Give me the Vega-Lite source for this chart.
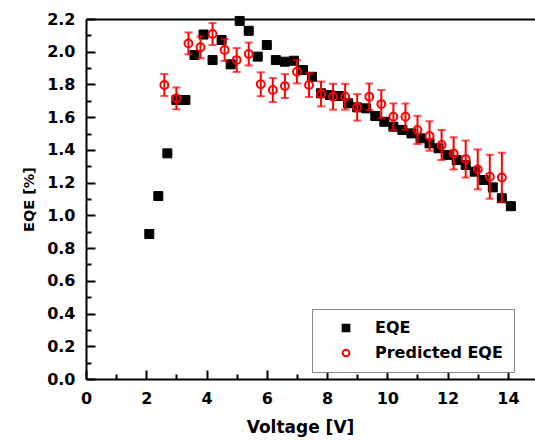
{
  "$schema": "https://vega.github.io/schema/vega-lite/v6.json",
  "width": 449,
  "height": 360,
  "autosize": {"type": "none"},
  "padding": {"left": 86, "top": 19, "right": 0, "bottom": 66},
  "background": "white",
  "config": {
    "view": {"stroke": null},
    "font": "DejaVu Sans",
    "axis": {"labelOverlap": false, "labelFlush": false, "grid": false}
  },
  "data": {
    "values": [
      {"V": 2.1, "eqe": 0.886, "series": "EQE"},
      {"V": 2.4, "eqe": 1.118, "series": "EQE"},
      {"V": 2.7, "eqe": 1.379, "series": "EQE"},
      {"V": 3.0, "eqe": 1.705, "series": "EQE"},
      {"V": 3.3, "eqe": 1.705, "series": "EQE"},
      {"V": 3.6, "eqe": 1.98, "series": "EQE"},
      {"V": 3.9, "eqe": 2.105, "series": "EQE"},
      {"V": 4.2, "eqe": 1.949, "series": "EQE"},
      {"V": 4.5, "eqe": 2.072, "series": "EQE"},
      {"V": 4.8, "eqe": 1.923, "series": "EQE"},
      {"V": 5.1, "eqe": 2.188, "series": "EQE"},
      {"V": 5.4, "eqe": 2.128, "series": "EQE"},
      {"V": 5.7, "eqe": 1.97, "series": "EQE"},
      {"V": 6.0, "eqe": 2.041, "series": "EQE"},
      {"V": 6.3, "eqe": 1.949, "series": "EQE"},
      {"V": 6.6, "eqe": 1.939, "series": "EQE"},
      {"V": 6.9, "eqe": 1.945, "series": "EQE"},
      {"V": 7.2, "eqe": 1.888, "series": "EQE"},
      {"V": 7.5, "eqe": 1.847, "series": "EQE"},
      {"V": 7.8, "eqe": 1.746, "series": "EQE"},
      {"V": 8.1, "eqe": 1.735, "series": "EQE"},
      {"V": 8.4, "eqe": 1.729, "series": "EQE"},
      {"V": 8.7, "eqe": 1.685, "series": "EQE"},
      {"V": 9.0, "eqe": 1.66, "series": "EQE"},
      {"V": 9.3, "eqe": 1.654, "series": "EQE"},
      {"V": 9.6, "eqe": 1.607, "series": "EQE"},
      {"V": 9.9, "eqe": 1.572, "series": "EQE"},
      {"V": 10.2, "eqe": 1.542, "series": "EQE"},
      {"V": 10.5, "eqe": 1.522, "series": "EQE"},
      {"V": 10.8, "eqe": 1.501, "series": "EQE"},
      {"V": 11.1, "eqe": 1.471, "series": "EQE"},
      {"V": 11.4, "eqe": 1.44, "series": "EQE"},
      {"V": 11.7, "eqe": 1.41, "series": "EQE"},
      {"V": 12.0, "eqe": 1.369, "series": "EQE"},
      {"V": 12.3, "eqe": 1.338, "series": "EQE"},
      {"V": 12.6, "eqe": 1.308, "series": "EQE"},
      {"V": 12.9, "eqe": 1.267, "series": "EQE"},
      {"V": 13.2, "eqe": 1.216, "series": "EQE"},
      {"V": 13.5, "eqe": 1.171, "series": "EQE"},
      {"V": 13.8, "eqe": 1.105, "series": "EQE"},
      {"V": 14.1, "eqe": 1.056, "series": "EQE"},
      {"V": 2.6, "eqe": 1.797, "lo": 1.730, "hi": 1.864, "series": "Predicted EQE"},
      {"V": 3.0, "eqe": 1.715, "lo": 1.648, "hi": 1.782, "series": "Predicted EQE"},
      {"V": 3.4, "eqe": 2.051, "lo": 1.984, "hi": 2.118, "series": "Predicted EQE"},
      {"V": 3.8, "eqe": 2.027, "lo": 1.960, "hi": 2.094, "series": "Predicted EQE"},
      {"V": 4.2, "eqe": 2.108, "lo": 2.041, "hi": 2.175, "series": "Predicted EQE"},
      {"V": 4.6, "eqe": 2.011, "lo": 1.944, "hi": 2.078, "series": "Predicted EQE"},
      {"V": 5.0, "eqe": 1.949, "lo": 1.876, "hi": 2.022, "series": "Predicted EQE"},
      {"V": 5.4, "eqe": 1.986, "lo": 1.916, "hi": 2.056, "series": "Predicted EQE"},
      {"V": 5.8, "eqe": 1.801, "lo": 1.728, "hi": 1.874, "series": "Predicted EQE"},
      {"V": 6.2, "eqe": 1.766, "lo": 1.693, "hi": 1.839, "series": "Predicted EQE"},
      {"V": 6.6, "eqe": 1.790, "lo": 1.717, "hi": 1.863, "series": "Predicted EQE"},
      {"V": 7.0, "eqe": 1.878, "lo": 1.807, "hi": 1.949, "series": "Predicted EQE"},
      {"V": 7.4, "eqe": 1.797, "lo": 1.724, "hi": 1.870, "series": "Predicted EQE"},
      {"V": 7.8, "eqe": 1.742, "lo": 1.666, "hi": 1.818, "series": "Predicted EQE"},
      {"V": 8.2, "eqe": 1.725, "lo": 1.646, "hi": 1.804, "series": "Predicted EQE"},
      {"V": 8.6, "eqe": 1.725, "lo": 1.646, "hi": 1.804, "series": "Predicted EQE"},
      {"V": 9.0, "eqe": 1.660, "lo": 1.579, "hi": 1.741, "series": "Predicted EQE"},
      {"V": 9.4, "eqe": 1.725, "lo": 1.644, "hi": 1.806, "series": "Predicted EQE"},
      {"V": 9.8, "eqe": 1.680, "lo": 1.594, "hi": 1.766, "series": "Predicted EQE"},
      {"V": 10.2, "eqe": 1.603, "lo": 1.522, "hi": 1.684, "series": "Predicted EQE"},
      {"V": 10.6, "eqe": 1.603, "lo": 1.523, "hi": 1.683, "series": "Predicted EQE"},
      {"V": 11.0, "eqe": 1.522, "lo": 1.436, "hi": 1.608, "series": "Predicted EQE"},
      {"V": 11.4, "eqe": 1.485, "lo": 1.395, "hi": 1.575, "series": "Predicted EQE"},
      {"V": 11.8, "eqe": 1.430, "lo": 1.338, "hi": 1.522, "series": "Predicted EQE"},
      {"V": 12.2, "eqe": 1.379, "lo": 1.281, "hi": 1.477, "series": "Predicted EQE"},
      {"V": 12.6, "eqe": 1.344, "lo": 1.231, "hi": 1.457, "series": "Predicted EQE"},
      {"V": 13.0, "eqe": 1.281, "lo": 1.159, "hi": 1.403, "series": "Predicted EQE"},
      {"V": 13.4, "eqe": 1.236, "lo": 1.102, "hi": 1.370, "series": "Predicted EQE"},
      {"V": 13.8, "eqe": 1.232, "lo": 1.081, "hi": 1.383, "series": "Predicted EQE"}
    ]
  },
  "resolve": {"axis": {"x": "independent", "y": "independent"}},
  "layer": [
    {
      "transform": [{"filter": "datum.series === 'EQE'"}],
      "mark": {"type": "point", "size": 81, "strokeWidth": 1, "opacity": 1},
      "encoding": {
        "x": {
          "field": "V", "type": "quantitative",
          "scale": {"domain": [0, 14.9], "nice": false, "zero": false},
          "axis": {
            "orient": "bottom", "title": "Voltage [V]", "titleX": 214,
            "values": [0, 2, 4, 6, 8, 10, 12, 14],
            "format": "d",
            "tickSize": -9,
            "tickWidth": 2, "tickColor": "black",
            "domainColor": "black", "domainWidth": 2,
            "labelFont": "DejaVu Sans", "labelFontWeight": "bold", "labelFontSize": 16, "labelColor": "black",
            "labelPadding": 20, "labelFlush": false, "labelOverlap": false, "grid": false,
            "titleFont": "DejaVu Sans", "titleFontSize": 17, "titleFontWeight": "bold", "titleColor": "black",
            "titlePadding": 13
          }
        },
        "y": {
          "field": "eqe", "type": "quantitative", "title": "EQE [%]",
          "scale": {"domain": [0, 2.2], "nice": false, "zero": false},
          "axis": {
            "orient": "left", "title": "EQE [%]",
            "values": [0, 0.2, 0.4, 0.6, 0.8, 1, 1.2, 1.4, 1.6, 1.8, 2, 2.2],
            "format": ".1f",
            "tickSize": -9,
            "tickWidth": 2, "tickColor": "black",
            "domainColor": "black", "domainWidth": 2,
            "labelFont": "DejaVu Sans", "labelFontWeight": "bold", "labelFontSize": 16, "labelColor": "black",
            "labelPadding": 20, "labelFlush": false, "labelOverlap": false, "grid": false,
            "titleFont": "DejaVu Sans", "titleFontSize": 14.5, "titleFontWeight": "bold", "titleColor": "black",
            "titlePadding": 10
          }
        },
        "shape": {
          "field": "series", "type": "nominal",
          "scale": {"domain": ["EQE", "Predicted EQE"], "range": ["square", "circle"]},
          "legend": {
            "orient": "none", "legendX": 226, "legendY": 290, "title": null,
            "strokeColor": "#888888", "fillColor": "white", "padding": 11,
            "labelFont": "DejaVu Sans", "labelFontWeight": "bold", "labelFontSize": 16, "labelColor": "black",
            "labelExpr": "datum.label + '\u00a0\u00a0\u00a0\u00a0\u00a0'",
            "symbolSize": 45, "symbolStrokeWidth": 2, "symbolOffset": 15, "labelOffset": 21,
            "rowPadding": 9, "symbolOpacity": 1
          }
        },
        "fill": {
          "field": "series", "type": "nominal",
          "scale": {"domain": ["EQE", "Predicted EQE"], "range": ["black", "transparent"]}
        },
        "stroke": {
          "field": "series", "type": "nominal",
          "scale": {"domain": ["EQE", "Predicted EQE"], "range": ["black", "red"]}
        }
      }
    },
    {
      "transform": [{"filter": "datum.series === 'Predicted EQE'"}],
      "mark": {"type": "errorbar", "color": "red", "thickness": 2, "ticks": {"size": 8, "thickness": 2, "color": "red"}},
      "encoding": {
        "x": {
          "field": "V", "type": "quantitative",
          "axis": {"orient": "bottom", "title": null, "labels": false, "domain": false, "grid": false,
                   "values": [1, 3, 5, 7, 9, 11, 13], "tickSize": -5, "tickWidth": 2, "tickColor": "black"}
        },
        "y": {
          "field": "lo", "type": "quantitative",
          "axis": {"orient": "left", "title": null, "labels": false, "domain": false, "grid": false,
                   "values": [0.1, 0.3, 0.5, 0.7, 0.9, 1.1, 1.3, 1.5, 1.7, 1.9, 2.1], "tickSize": -5, "tickWidth": 2, "tickColor": "black"}
        },
        "y2": {"field": "hi"}
      }
    },
    {
      "transform": [{"filter": "datum.series === 'Predicted EQE'"}],
      "mark": {"type": "point", "size": 62, "strokeWidth": 2, "opacity": 1},
      "encoding": {
        "x": {
          "field": "V", "type": "quantitative",
          "axis": {"orient": "top", "title": null, "ticks": false, "labels": false, "domainColor": "black", "domainWidth": 2, "grid": false}
        },
        "y": {"field": "eqe", "type": "quantitative", "axis": null},
        "shape": {"field": "series", "type": "nominal"},
        "fill": {"field": "series", "type": "nominal"},
        "stroke": {"field": "series", "type": "nominal"}
      }
    }
  ]
}
